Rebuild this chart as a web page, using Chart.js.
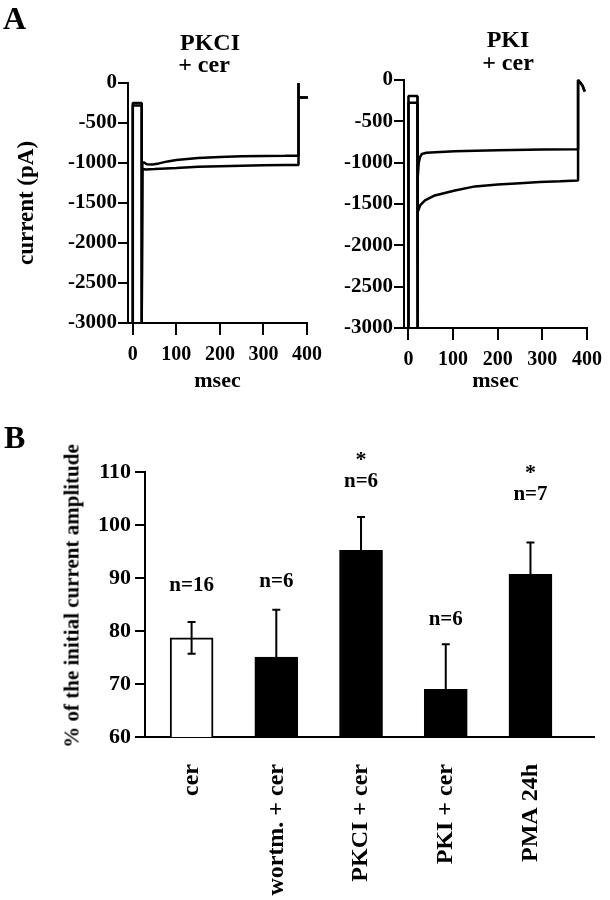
<!DOCTYPE html>
<html>
<head>
<meta charset="utf-8">
<title>Ceramide current traces and amplitudes</title>
<script src="https://cdn.jsdelivr.net/npm/chart.js@4.4.1/dist/chart.umd.min.js"></script>
<style>
  html, body { margin: 0; padding: 0; background: #fff; }
  #page {
    position: relative; width: 610px; height: 900px; overflow: hidden;
    font-family: 'Liberation Serif', 'Times New Roman', serif; font-weight: bold; color: #000;
  }
  canvas { position: absolute; }
  .txt { position: absolute; line-height: 1; white-space: nowrap; }
  .ctr { transform: translateX(-50%); }
</style>
</head>
<body>
<div id="page">
  <canvas id="pkciChart" width="330" height="400" style="left:0;top:0"></canvas>
  <canvas id="pkiChart" width="310" height="400" style="left:300px;top:0"></canvas>
  <canvas id="barChart" width="610" height="500" style="left:0;top:400px"></canvas>

  <div class="txt" style="left:3px;top:2px;font-size:32px">A</div>
  <div class="txt ctr" style="left:210px;top:30px;font-size:24px">PKCI</div>
  <div class="txt ctr" style="left:204px;top:52px;font-size:24px">+ cer</div>
  <div class="txt ctr" style="left:508px;top:27px;font-size:24px">PKI</div>
  <div class="txt ctr" style="left:508px;top:50px;font-size:24px">+ cer</div>

  <div class="txt" style="left:4px;top:421px;font-size:32px">B</div>
  <div class="txt" style="left:72px;top:596px;font-size:21px;transform:translate(-50%,-50%) rotate(-90deg)">% of the initial current amplitude</div>
</div>

<script>
// ---- A: current traces, time in msec, current in pA ----
const xTicksA = [0, 100, 200, 300, 400];
const yTicksA = [0, -500, -1000, -1500, -2000, -2500, -3000];

// PKCI + cer
const pkciPreTime  = [0, 0, 20.5, 20.5, 22, 30, 50, 100, 150, 200, 250, 300, 350, 380, 380, 381, 402];
const pkciPreCurr  = [-3000, -280, -280, -3000, -1075, -1080, -1075, -1062, -1048, -1040, -1033, -1027, -1025, -1025, 0, -180, -180];
const pkciPostTime = [0, 0, 20.5, 20.5, 22, 25, 32, 45, 60, 80, 100, 150, 200, 250, 300, 350, 380, 380, 381, 402];
const pkciPostCurr = [-3000, -250, -250, -3000, -1000, -990, -1015, -1020, -1005, -980, -962, -937, -925, -917, -912, -910, -908, 0, -180, -180];

// PKI + cer
const pkiPreTime  = [0, 0, 20, 20, 21, 26, 37, 59, 104, 149, 200, 250, 294, 340, 380, 380, 384, 390, 395];
const pkiPreCurr  = [-3000, -275, -275, -3000, -1600, -1518, -1457, -1397, -1336, -1287, -1263, -1248, -1235, -1225, -1215, 0, -25, -70, -140];
const pkiPostTime = [0, 0, 20, 20, 21, 23, 26, 30, 40, 60, 104, 150, 200, 300, 380, 380, 384, 390, 395];
const pkiPostCurr = [-3000, -195, -195, -3000, -1200, -1000, -930, -895, -880, -873, -862, -855, -850, -842, -837, 0, -25, -70, -140];

// ---- B: % of the initial current amplitude ----
const barLabels = ['cer', 'wortm. + cer', 'PKCI + cer', 'PKI + cer', 'PMA 24h'];
const barMeans  = [78.7, 75.1, 95.2, 69.0, 90.7];
const barSem    = [3.0, 8.9, 6.3, 8.5, 6.0];
const barN      = ['n=16', 'n=6', 'n=6', 'n=6', 'n=7'];
const barStar   = [false, false, true, false, true];
const yTicksB   = [60, 70, 80, 90, 100, 110];

const FONT = "'Liberation Serif', 'Times New Roman', serif";
Chart.defaults.font.family = FONT;
Chart.defaults.font.weight = 'bold';
Chart.defaults.color = '#000';

function toPoints(t, v) {
  return t.map((x, i) => ({ x: x, y: v[i] }));
}

function traceSet(t, v) {
  return {
    data: toPoints(t, v),
    borderColor: '#000',
    borderWidth: 2.5,
    pointRadius: 0,
    tension: 0,
    clip: false,
    borderJoinStyle: 'bevel'
  };
}

function drawTraceChart(canvasId, sets, o) {
  new Chart(document.getElementById(canvasId), {
    type: 'line',
    data: { datasets: sets },
    options: {
      responsive: false,
      animation: false,
      events: [],
      layout: { padding: o.padding, autoPadding: false },
      plugins: { legend: { display: false }, tooltip: { enabled: false } },
      scales: {
        x: {
          type: 'linear', min: o.xMin, max: 400,
          afterBuildTicks: s => { s.ticks = xTicksA.map(v => ({ value: v })); },
          afterFit: s => { s.height = o.xHeight; },
          grid: { drawOnChartArea: false, color: '#000', lineWidth: 2, tickLength: 12 },
          border: { color: '#000', width: 2 },
          ticks: { font: { size: 20 }, padding: 8, maxRotation: 0, callback: v => String(v) },
          title: { display: true, text: 'msec', font: { size: 22 }, padding: { bottom: 5 } }
        },
        y: {
          min: -3000, max: 0,
          afterBuildTicks: s => { s.ticks = yTicksA.map(v => ({ value: v })); },
          afterFit: s => { s.width = o.yWidth; },
          grid: { drawOnChartArea: false, color: '#000', lineWidth: 2, tickLength: 10 },
          border: { color: '#000', width: 2 },
          ticks: { font: { size: 21 }, padding: 1, callback: v => String(v) },
          title: { display: o.yTitle, text: 'current (pA)', font: { size: 23 }, padding: { top: 13 } }
        }
      }
    }
  });
}

// error bars, n labels and significance stars for panel B
const barExtras = {
  id: 'barExtras',
  afterDatasetsDraw(chart) {
    const ctx = chart.ctx;
    const xs = chart.scales.x, ys = chart.scales.y;
    const lift = [31, 23, 30, 19, 42];
    ctx.save();
    ctx.strokeStyle = '#000';
    ctx.fillStyle = '#000';
    ctx.lineWidth = 2;
    barMeans.forEach((m, i) => {
      const x = xs.getPixelForValue(i + 1);
      const top = ys.getPixelForValue(m + barSem[i]);
      const bot = ys.getPixelForValue(m - barSem[i]);
      ctx.beginPath();
      ctx.moveTo(x, bot); ctx.lineTo(x, top);
      ctx.moveTo(x - 4, top); ctx.lineTo(x + 4, top);
      ctx.moveTo(x - 4, bot); ctx.lineTo(x + 4, bot);
      ctx.stroke();
      ctx.textAlign = 'center';
      ctx.textBaseline = 'alphabetic';
      ctx.font = 'bold 21px ' + FONT;
      const base = top - lift[i];
      ctx.fillText(barN[i], x, base);
      if (barStar[i]) {
        ctx.font = 'bold 22px ' + FONT;
        ctx.fillText('*', x, base - 21);
      }
    });
    ctx.restore();
  }
};

function drawBarChart(canvasId) {
  new Chart(document.getElementById(canvasId), {
    type: 'bar',
    data: {
      datasets: [{
        data: barMeans.map((m, i) => ({ x: i + 1, y: m })),
        backgroundColor: c => (c.dataIndex === 0 ? '#fff' : '#000'),
        borderColor: '#000',
        borderWidth: 2,
        borderSkipped: 'start',
        barThickness: 43
      }]
    },
    options: {
      responsive: false,
      animation: false,
      events: [],
      layout: { padding: { top: 72, right: 16, left: 0, bottom: 0 }, autoPadding: false },
      plugins: { legend: { display: false }, tooltip: { enabled: false } },
      scales: {
        x: {
          type: 'linear', min: 0.45, max: 5.75, offset: false,
          afterBuildTicks: s => { s.ticks = barLabels.map((l, i) => ({ value: i + 1 })); },
          afterFit: s => { s.height = 163; },
          grid: { display: false },
          border: { color: '#000', width: 2 },
          ticks: {
            font: { size: 24 }, padding: 19, minRotation: 90, maxRotation: 90, autoSkip: false,
            callback: v => barLabels[Math.round(v) - 1]
          }
        },
        y: {
          min: 60, max: 110,
          afterBuildTicks: s => { s.ticks = yTicksB.map(v => ({ value: v })); },
          afterFit: s => { s.width = 145; },
          grid: { drawOnChartArea: false, color: '#000', lineWidth: 2, tickLength: 10 },
          border: { color: '#000', width: 2 },
          ticks: { font: { size: 22 }, padding: 4, callback: v => String(v) }
        }
      }
    },
    plugins: [barExtras]
  });
}

window.onload = function () {
  drawTraceChart('pkciChart',
    [traceSet(pkciPreTime, pkciPreCurr), traceSet(pkciPostTime, pkciPostCurr)],
    { xMin: -11, xHeight: 77, yWidth: 128, yTitle: true,
      padding: { top: 83, right: 22, left: 0, bottom: 0 } });
  drawTraceChart('pkiChart',
    [traceSet(pkiPreTime, pkiPreCurr), traceSet(pkiPostTime, pkiPostCurr)],
    { xMin: -10, xHeight: 72, yWidth: 104, yTitle: false,
      padding: { top: 80, right: 23, left: 0, bottom: 0 } });
  drawBarChart('barChart');
};
</script>
</body>
</html>
